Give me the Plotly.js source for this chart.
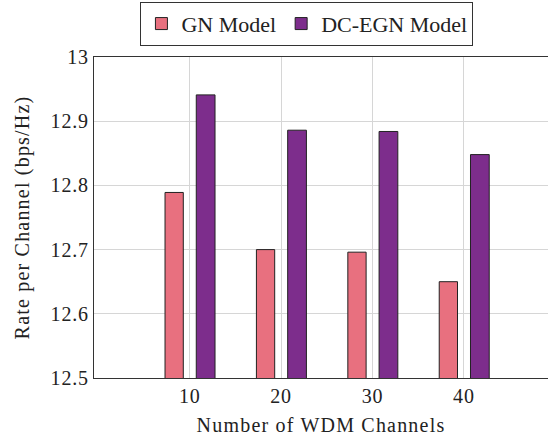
<!DOCTYPE html>
<html>
<head>
<meta charset="utf-8">
<script src="https://cdn.plot.ly/plotly-3.0.1.min.js"></script>
<style>html,body{margin:0;padding:0;background:#fff;}#chart{width:548px;height:436px;}
#chart .xtitle, #chart .ytitle{letter-spacing:1.2px;}
#chart .xtick text, #chart .ytick text{letter-spacing:0.8px;}</style>
</head>
<body>
<div id="chart"></div>
<script>
const channels = [10, 20, 30, 40];
const gnModel = [12.789, 12.700, 12.696, 12.650];
const dcEgnModel = [12.941, 12.886, 12.884, 12.848];
const yTicks = [12.5, 12.6, 12.7, 12.8, 12.9, 13];
const yTickLabels = ['12.5', '12.6', '12.7', '12.8', '12.9', '13'];

const font = {family: 'Liberation Serif', size: 20, color: '#222'};
const legendFont = {family: 'Liberation Serif', size: 22, color: '#222'};

const traces = [
  {type: 'bar', name: 'GN Model', x: channels, y: gnModel, width: 2, offset: -2.7,
   marker: {color: '#E8707F', line: {color: '#222', width: 1}}},
  {type: 'bar', name: 'DC-EGN Model', x: channels, y: dcEgnModel, width: 2.05, offset: 0.72,
   marker: {color: '#7D2D8C', line: {color: '#222', width: 1}}}
];

const layout = {
  width: 548, height: 436,
  margin: {l: 94, r: 0, t: 57, b: 58},
  paper_bgcolor: '#fff', plot_bgcolor: '#fff',
  font: font,
  barmode: 'group',
  showlegend: true,
  legend: {orientation: 'h', x: 0.469, xanchor: 'center', y: 1.035, yanchor: 'bottom',
           bordercolor: '#333', borderwidth: 1, bgcolor: '#fff', font: legendFont,
           itemwidth: 30, tracegroupgap: 0},
  xaxis: {range: [-0.47, 49.2], tickvals: channels, ticktext: channels.map(String),
          showgrid: true, gridcolor: '#d6d6d6', gridwidth: 1, zeroline: false,
          showline: true, linecolor: '#333', linewidth: 1.2, mirror: true, ticks: '',
          tickfont: font, title: {text: 'Number of WDM Channels', font: font, standoff: 12}},
  yaxis: {range: [12.5, 13], tickvals: yTicks, ticktext: yTickLabels,
          showgrid: true, gridcolor: '#d6d6d6', gridwidth: 1, zeroline: false,
          showline: true, linecolor: '#333', linewidth: 1.2, ticks: '',
          tickfont: font, title: {text: 'Rate per Channel (bps/Hz)', font: font, standoff: 18}}
};

Plotly.newPlot('chart', traces, layout, {displayModeBar: false, staticPlot: true});
</script>
</body>
</html>
